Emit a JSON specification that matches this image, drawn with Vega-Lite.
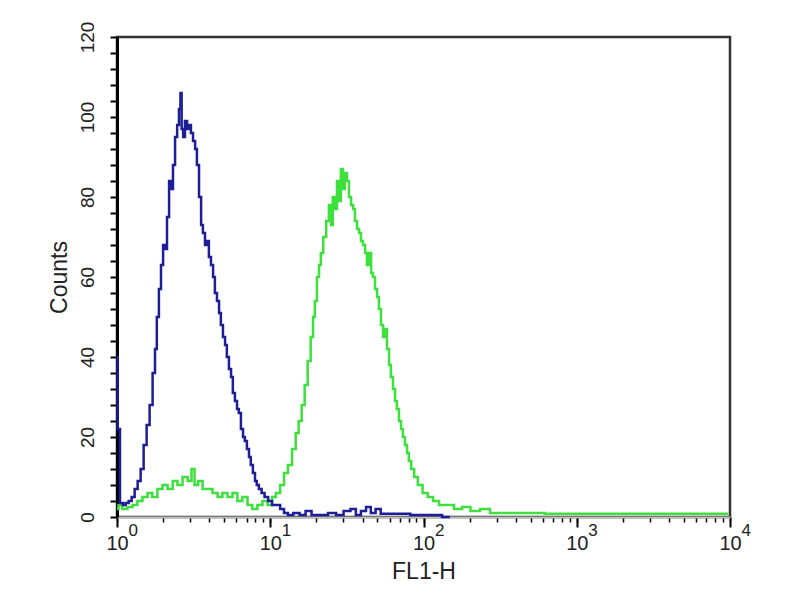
{
  "$schema": "https://vega.github.io/schema/vega-lite/v6.json",
  "width": 613,
  "height": 480,
  "autosize": {"type": "none"},
  "padding": {"left": 117, "top": 37, "right": 70, "bottom": 83},
  "background": "white",
  "config": {"view": {"stroke": "#333333", "strokeWidth": 2.5}, "font": "Liberation Sans"},
  "datasets": {
    "blue": [
      {"channel": 0, "count": 40}, {"channel": 2, "count": 22}, {"channel": 8, "count": 3.5}, {"channel": 12, "count": 3},
      {"channel": 17, "count": 3.5}, {"channel": 22, "count": 4}, {"channel": 27, "count": 5}, {"channel": 32, "count": 7},
      {"channel": 37, "count": 9}, {"channel": 42, "count": 12}, {"channel": 47, "count": 18}, {"channel": 52, "count": 23},
      {"channel": 57, "count": 28}, {"channel": 62, "count": 36}, {"channel": 65, "count": 42}, {"channel": 68, "count": 50},
      {"channel": 72, "count": 57}, {"channel": 75, "count": 63}, {"channel": 79, "count": 68}, {"channel": 82, "count": 67},
      {"channel": 85, "count": 75}, {"channel": 89, "count": 84}, {"channel": 92, "count": 82}, {"channel": 95, "count": 88},
      {"channel": 99, "count": 95}, {"channel": 102, "count": 98}, {"channel": 105, "count": 102}, {"channel": 107, "count": 106},
      {"channel": 109, "count": 97}, {"channel": 112, "count": 95}, {"channel": 115, "count": 99}, {"channel": 119, "count": 97},
      {"channel": 122, "count": 98}, {"channel": 125, "count": 96}, {"channel": 129, "count": 94}, {"channel": 132, "count": 92},
      {"channel": 135, "count": 88}, {"channel": 139, "count": 80}, {"channel": 142, "count": 73}, {"channel": 145, "count": 71},
      {"channel": 149, "count": 68}, {"channel": 152, "count": 69}, {"channel": 155, "count": 65}, {"channel": 159, "count": 63},
      {"channel": 162, "count": 60}, {"channel": 165, "count": 56}, {"channel": 169, "count": 54}, {"channel": 172, "count": 51},
      {"channel": 175, "count": 48}, {"channel": 179, "count": 45}, {"channel": 182, "count": 43}, {"channel": 185, "count": 40},
      {"channel": 189, "count": 37}, {"channel": 192, "count": 35}, {"channel": 195, "count": 31}, {"channel": 199, "count": 29},
      {"channel": 202, "count": 27}, {"channel": 205, "count": 26}, {"channel": 209, "count": 22}, {"channel": 212, "count": 20},
      {"channel": 215, "count": 19}, {"channel": 219, "count": 17}, {"channel": 222, "count": 15}, {"channel": 225, "count": 13},
      {"channel": 229, "count": 11}, {"channel": 232, "count": 9}, {"channel": 235, "count": 8}, {"channel": 239, "count": 7},
      {"channel": 244, "count": 6}, {"channel": 249, "count": 5}, {"channel": 256, "count": 4}, {"channel": 262, "count": 3},
      {"channel": 269, "count": 3}, {"channel": 276, "count": 2}, {"channel": 282, "count": 1}, {"channel": 289, "count": 0.5},
      {"channel": 300, "count": 1}, {"channel": 310, "count": 0.5}, {"channel": 320, "count": 1.5}, {"channel": 330, "count": 0.5},
      {"channel": 345, "count": 0.5}, {"channel": 360, "count": 1}, {"channel": 372, "count": 0.5}, {"channel": 385, "count": 1.5},
      {"channel": 395, "count": 2}, {"channel": 403, "count": 0.5}, {"channel": 412, "count": 1.5}, {"channel": 420, "count": 2.5},
      {"channel": 428, "count": 1}, {"channel": 436, "count": 2}, {"channel": 445, "count": 0.8}, {"channel": 460, "count": 0.8},
      {"channel": 480, "count": 0.8}, {"channel": 500, "count": 0.5}, {"channel": 530, "count": 0.5}, {"channel": 556, "count": 0}
    ],
    "green": [
      {"channel": 0, "count": 2}, {"channel": 5, "count": 3}, {"channel": 13, "count": 2}, {"channel": 22, "count": 2.5},
      {"channel": 30, "count": 3}, {"channel": 38, "count": 4}, {"channel": 47, "count": 5}, {"channel": 55, "count": 6},
      {"channel": 63, "count": 5}, {"channel": 72, "count": 7}, {"channel": 80, "count": 8}, {"channel": 89, "count": 7},
      {"channel": 97, "count": 9}, {"channel": 105, "count": 8}, {"channel": 114, "count": 10}, {"channel": 122, "count": 9},
      {"channel": 127, "count": 12}, {"channel": 132, "count": 8}, {"channel": 139, "count": 9}, {"channel": 147, "count": 7},
      {"channel": 155, "count": 7}, {"channel": 164, "count": 6}, {"channel": 172, "count": 5}, {"channel": 180, "count": 6},
      {"channel": 189, "count": 5}, {"channel": 197, "count": 6}, {"channel": 205, "count": 4}, {"channel": 214, "count": 5},
      {"channel": 222, "count": 3}, {"channel": 230, "count": 2}, {"channel": 239, "count": 3}, {"channel": 247, "count": 4},
      {"channel": 256, "count": 3}, {"channel": 262, "count": 5}, {"channel": 269, "count": 6}, {"channel": 276, "count": 8},
      {"channel": 282, "count": 11}, {"channel": 289, "count": 13}, {"channel": 296, "count": 17}, {"channel": 301, "count": 21},
      {"channel": 306, "count": 24}, {"channel": 311, "count": 28}, {"channel": 316, "count": 33}, {"channel": 321, "count": 39},
      {"channel": 326, "count": 45}, {"channel": 329, "count": 50}, {"channel": 332, "count": 54}, {"channel": 336, "count": 60},
      {"channel": 339, "count": 63}, {"channel": 342, "count": 66}, {"channel": 347, "count": 70}, {"channel": 352, "count": 74},
      {"channel": 356, "count": 78}, {"channel": 359, "count": 73}, {"channel": 362, "count": 80}, {"channel": 366, "count": 77},
      {"channel": 369, "count": 84}, {"channel": 372, "count": 79}, {"channel": 376, "count": 87}, {"channel": 379, "count": 82},
      {"channel": 382, "count": 86}, {"channel": 386, "count": 84}, {"channel": 389, "count": 80}, {"channel": 393, "count": 78},
      {"channel": 396, "count": 77}, {"channel": 399, "count": 74}, {"channel": 403, "count": 72}, {"channel": 406, "count": 71},
      {"channel": 409, "count": 69}, {"channel": 413, "count": 68}, {"channel": 416, "count": 66}, {"channel": 419, "count": 63},
      {"channel": 423, "count": 66}, {"channel": 426, "count": 61}, {"channel": 429, "count": 60}, {"channel": 433, "count": 57},
      {"channel": 436, "count": 55}, {"channel": 439, "count": 52}, {"channel": 443, "count": 48}, {"channel": 446, "count": 45},
      {"channel": 449, "count": 47}, {"channel": 453, "count": 42}, {"channel": 456, "count": 38}, {"channel": 459, "count": 35},
      {"channel": 463, "count": 32}, {"channel": 466, "count": 29}, {"channel": 469, "count": 27}, {"channel": 473, "count": 24},
      {"channel": 476, "count": 22}, {"channel": 479, "count": 20}, {"channel": 483, "count": 18}, {"channel": 486, "count": 16},
      {"channel": 489, "count": 14}, {"channel": 494, "count": 12}, {"channel": 499, "count": 10}, {"channel": 506, "count": 8},
      {"channel": 515, "count": 6}, {"channel": 523, "count": 5}, {"channel": 533, "count": 4}, {"channel": 543, "count": 3},
      {"channel": 556, "count": 3}, {"channel": 570, "count": 2}, {"channel": 583, "count": 2.5}, {"channel": 598, "count": 1.5},
      {"channel": 615, "count": 2}, {"channel": 631, "count": 1}, {"channel": 656, "count": 1}, {"channel": 690, "count": 1},
      {"channel": 740, "count": 0.8}, {"channel": 807, "count": 0.8}, {"channel": 890, "count": 0.8}, {"channel": 974, "count": 0.8},
      {"channel": 1021, "count": 0.8}
    ]
  },
  "encoding": {
    "y": {
      "field": "count",
      "type": "quantitative",
      "scale": {"domain": [0, 120], "nice": false},
      "axis": {
        "title": "Counts",
        "values": [0, 4, 8, 12, 16, 20, 24, 28, 32, 36, 40, 44, 48, 52, 56, 60, 64, 68, 72, 76, 80, 84, 88, 92, 96, 100, 104, 108, 112, 116, 120],
        "labelExpr": "datum.value % 20 === 0 ? datum.label : ''",
        "labelAngle": 270,
        "labelAlign": "center",
        "labelBaseline": "bottom",
        "labelPadding": 13,
        "labelFontSize": 19,
        "labelColor": "#222222",
        "labelFlush": false,
        "tickSize": 7,
        "tickWidth": 2,
        "tickColor": "#000000",
        "domainColor": "#000000",
        "domainWidth": 3,
        "grid": false,
        "titleFontSize": 23,
        "titleFontWeight": "normal",
        "titleColor": "#222222",
        "titlePadding": 7
      }
    }
  },
  "layer": [
    {
      "data": {"name": "green"},
      "mark": {"type": "line", "interpolate": "step", "color": "#3ee03e", "strokeWidth": 2.5},
      "encoding": {
        "x": {
          "field": "channel",
          "type": "quantitative",
          "scale": {"domain": [0, 1024], "nice": false},
          "axis": {
            "orient": "bottom",
            "title": null,
            "values": [0, 256, 512, 768, 1024],
            "labelExpr": "'' + round(datum.value / 256)",
            "domain": false,
            "grid": false,
            "tickSize": 10,
            "tickWidth": 2,
            "tickColor": "#000000",
            "labelAlign": "left",
            "labelBaseline": "top",
            "labelOffset": 11,
            "labelPadding": -5,
            "labelFontSize": 17,
            "labelColor": "#222222",
            "labelFlush": false
          }
        }
      }
    },
    {
      "data": {"name": "blue"},
      "mark": {"type": "line", "interpolate": "step", "color": "#1e1e96", "strokeWidth": 2.5},
      "encoding": {
        "x": {
          "field": "channel",
          "type": "quantitative",
          "scale": {"domain": [0, 1024], "nice": false},
          "axis": {
            "orient": "bottom",
            "title": "FL1-H",
            "values": [0, 77.06, 122.14, 154.13, 178.94, 199.21, 216.35, 231.19, 244.29,
                       256, 333.06, 378.14, 410.13, 434.94, 455.21, 472.35, 487.19, 500.29,
                       512, 589.06, 634.14, 666.13, 690.94, 711.21, 728.35, 743.19, 756.29,
                       768, 845.06, 890.14, 922.13, 946.94, 967.21, 984.35, 999.19, 1012.29, 1024],
            "labelExpr": "datum.value % 256 === 0 ? '10' : ''",
            "domainColor": "#bbbbbb",
            "domainWidth": 2,
            "grid": false,
            "tickSize": 5,
            "tickWidth": 1.5,
            "tickColor": "#000000",
            "labelBaseline": "top",
            "labelPadding": 11,
            "labelFontSize": 20,
            "labelColor": "#222222",
            "labelFlush": false,
            "titleFontSize": 23,
            "titleFontWeight": "normal",
            "titleColor": "#222222",
            "titlePadding": 7
          }
        }
      }
    }
  ],
  "resolve": {"axis": {"x": "independent"}}
}
